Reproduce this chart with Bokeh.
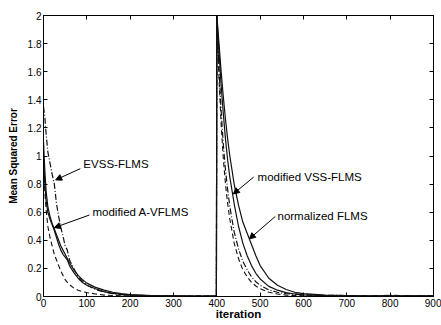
from bokeh.plotting import figure
from bokeh.models import (LinearAxis, FixedTicker, CustomJSTickFormatter, Range1d,
                          Label, Arrow, NormalHead)
from bokeh.embed import file_html
from bokeh.resources import INLINE

# ---------------- data ----------------
iters = [0, 3, 6, 10, 15, 20, 25, 30, 35, 40, 45, 50, 55, 60, 70, 80, 90, 100, 120, 140,
         160, 180, 200, 250, 300, 350, 399, 400, 405, 410, 415, 420, 425, 430, 440, 450,
         460, 470, 480, 490, 500, 520, 540, 560, 580, 600, 650, 700, 750, 800, 850, 900]

evss_flms = [1.35, 1.28, 1.16, 1.03, 0.95, 0.87, 0.8, 0.66, 0.57, 0.49, 0.43, 0.36, 0.33, 0.26,
             0.2, 0.14, 0.11, 0.08, 0.05, 0.032, 0.02, 0.013, 0.01, 0.006, 0.004, 0.003, 0.003,
             2.0, 1.62, 1.32, 1.08, 0.9, 0.76, 0.64, 0.46, 0.34, 0.25, 0.19, 0.14, 0.105,
             0.08, 0.047, 0.03, 0.02, 0.015, 0.012, 0.008, 0.007, 0.005, 0.008, 0.005, 0.006]

modified_avflms = [1.0, 0.8, 0.68, 0.6, 0.55, 0.51, 0.47, 0.42, 0.37, 0.33, 0.3, 0.28, 0.26, 0.22,
                   0.17, 0.13, 0.1, 0.08, 0.055, 0.035, 0.022, 0.015, 0.01, 0.005, 0.004, 0.003, 0.003,
                   2.0, 1.74, 1.5, 1.3, 1.12, 0.97, 0.85, 0.66, 0.5, 0.38, 0.29, 0.22, 0.165,
                   0.125, 0.072, 0.045, 0.028, 0.018, 0.012, 0.006, 0.004, 0.003, 0.003, 0.003, 0.003]

modified_vss_flms = [0.9, 0.75, 0.62, 0.5, 0.42, 0.36, 0.3, 0.26, 0.22, 0.18, 0.15, 0.12, 0.1, 0.085,
                     0.06, 0.045, 0.035, 0.028, 0.018, 0.01, 0.007, 0.005, 0.004, 0.003, 0.003, 0.003, 0.003,
                     2.0, 1.55, 1.22, 0.98, 0.8, 0.66, 0.55, 0.38, 0.27, 0.19, 0.14, 0.1, 0.075,
                     0.055, 0.03, 0.018, 0.01, 0.007, 0.005, 0.004, 0.003, 0.003, 0.003, 0.003, 0.003]

normalized_flms = [1.1, 0.9, 0.75, 0.64, 0.57, 0.52, 0.48, 0.44, 0.4, 0.36, 0.33, 0.3, 0.27, 0.24,
                   0.19, 0.15, 0.12, 0.095, 0.065, 0.045, 0.03, 0.02, 0.013, 0.006, 0.004, 0.003, 0.003,
                   2.0, 1.8, 1.6, 1.42, 1.26, 1.12, 1.0, 0.8, 0.65, 0.53, 0.45, 0.37, 0.29,
                   0.22, 0.13, 0.08, 0.05, 0.03, 0.02, 0.01, 0.007, 0.005, 0.004, 0.004, 0.004]

x_ticks = [0, 100, 200, 300, 400, 500, 600, 700, 800, 900]
y_ticks = [0, 0.2, 0.4, 0.6, 0.8, 1.0, 1.2, 1.4, 1.6, 1.8, 2.0]

# annotation texts with (text x, text y, arrow tail x, tail y, head x, head y)
ann_text = ["EVSS-FLMS", "modified A-VFLMS", "modified VSS-FLMS", "normalized FLMS"]
ann_tx = [92, 113, 494, 540]
ann_ty = [0.94, 0.60, 0.85, 0.57]
ann_ax0 = [85, 106, 485, 535]
ann_ay0 = [0.91, 0.58, 0.85, 0.57]
ann_ax1 = [28, 25, 438, 475]
ann_ay1 = [0.83, 0.49, 0.73, 0.41]

# ---------------- figure ----------------
FONT = "Liberation Sans"
p = figure(width=441, height=325, output_backend="svg", toolbar_location=None,
           x_range=Range1d(0, 900), y_range=Range1d(0, 2),
           min_border_left=43, min_border_right=8, min_border_top=15, min_border_bottom=29)
p.background_fill_color = "white"
p.border_fill_color = "white"
p.outline_line_color = "black"
p.outline_line_width = 1
p.xgrid.visible = False
p.ygrid.visible = False

ink = "#111111"
p.line(iters, normalized_flms, line_color=ink, line_width=1.2)
p.line(iters, modified_avflms, line_color=ink, line_width=1.2)
p.line(iters, modified_vss_flms, line_color=ink, line_width=1.1, line_dash="5 3")
p.line(iters, evss_flms, line_color=ink, line_width=1.2, line_dash="6 2 1 2")

fmt = CustomJSTickFormatter(code="return tick.toFixed(1).replace(/\\.0$/, '');")
blank = CustomJSTickFormatter(code="return '';")

for ax in p.xaxis:
    ax.ticker = FixedTicker(ticks=x_ticks)
for ax in p.yaxis:
    ax.ticker = FixedTicker(ticks=y_ticks)
    ax.formatter = fmt

for ax in list(p.xaxis) + list(p.yaxis):
    ax.major_tick_in = 4
    ax.major_tick_out = 0
    ax.minor_tick_line_color = None
    ax.axis_line_color = "black"
    ax.major_tick_line_color = "black"
    ax.major_label_text_font = FONT
    ax.major_label_text_font_size = "10px"
    ax.major_label_text_color = "black"
    ax.major_label_standoff = 2

p.xaxis.axis_label = "iteration"
p.xaxis.axis_label_text_font = FONT
p.xaxis.axis_label_text_font_style = "bold"
p.xaxis.axis_label_text_font_size = "11.5px"
p.xaxis.axis_label_standoff = -2
p.xaxis.axis_label_text_color = "black"

p.yaxis.axis_label = "Mean Squared Error"
p.yaxis.axis_label_text_font = FONT
p.yaxis.axis_label_text_font_style = "bold"
p.yaxis.axis_label_text_font_size = "10px"
p.yaxis.axis_label_standoff = 6
p.yaxis.axis_label_text_color = "black"

top = LinearAxis(ticker=FixedTicker(ticks=x_ticks), formatter=blank, major_tick_in=4,
                 major_tick_out=0, minor_tick_line_color=None, major_label_standoff=0)
right = LinearAxis(ticker=FixedTicker(ticks=y_ticks), formatter=blank, major_tick_in=4,
                   major_tick_out=0, minor_tick_line_color=None, major_label_standoff=0)
p.add_layout(top, "above")
p.add_layout(right, "right")

for t, tx, ty, x0, y0, x1, y1 in zip(ann_text, ann_tx, ann_ty, ann_ax0, ann_ay0, ann_ax1, ann_ay1):
    p.add_layout(Label(x=tx, y=ty, text=t, text_font=FONT, text_font_size="11.5px",
                       text_baseline="middle", text_align="left", text_color="black"))
    p.add_layout(Arrow(x_start=x0, y_start=y0, x_end=x1, y_end=y1, line_width=1,
                       line_color="black",
                       end=NormalHead(size=6, fill_color="black", line_color="black")))

open("out.html", "w").write(file_html(p, INLINE))
